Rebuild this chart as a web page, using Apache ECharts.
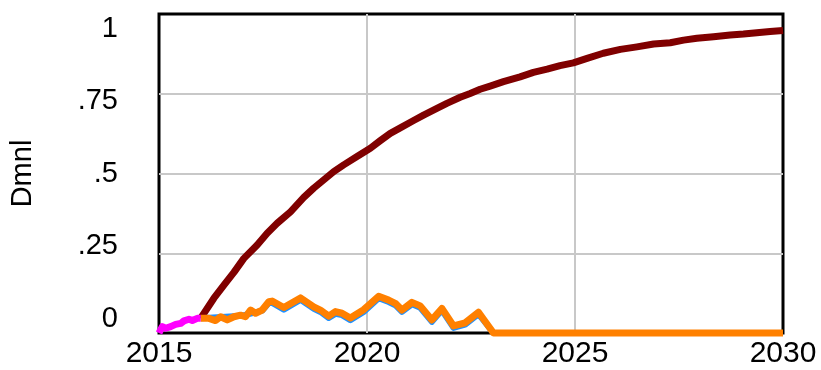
<!DOCTYPE html>
<html>
<head>
<meta charset="utf-8">
<script src="https://cdn.jsdelivr.net/npm/echarts@6/dist/echarts.min.js"></script>
<style>
  html, body { margin: 0; padding: 0; background: #fff; }
  #chart { width: 821px; height: 370px; }
</style>
</head>
<body>
<div id="chart"></div>
<script>
// Time axis (years) and tick labels
const xTicks = [2015, 2020, 2025, 2030];
const yTicks = [0, 0.25, 0.5, 0.75, 1];

// Initial segment (magenta)
const initT = [2015.0, 2015.08, 2015.16, 2015.28, 2015.40, 2015.52, 2015.60, 2015.72, 2015.80, 2015.92, 2016.0];
const initV = [0.0, 0.020, 0.015, 0.020, 0.027, 0.030, 0.038, 0.043, 0.039, 0.046, 0.046];

// Cumulative share (dark red)
const shareT = [2016.0, 2016.32, 2016.56, 2016.8, 2017.04, 2017.36, 2017.6, 2017.84, 2018.16, 2018.48,
                2018.72, 2018.96, 2019.2, 2019.44, 2019.76, 2020.08, 2020.32, 2020.56, 2020.8, 2021.12,
                2021.36, 2021.68, 2021.92, 2022.24, 2022.48, 2022.72, 2022.96, 2023.28, 2023.68, 2024.0,
                2024.33, 2024.64, 2024.96, 2025.29, 2025.68, 2026.09, 2026.49, 2026.89, 2027.29, 2027.61,
                2027.93, 2028.33, 2028.73, 2029.05, 2029.37, 2029.69, 2030.0];
const shareV = [0.046, 0.109, 0.150, 0.190, 0.234, 0.276, 0.313, 0.344, 0.380, 0.425,
                0.454, 0.480, 0.506, 0.527, 0.553, 0.579, 0.603, 0.626, 0.643, 0.666,
                0.683, 0.704, 0.720, 0.739, 0.751, 0.764, 0.774, 0.788, 0.803, 0.817,
                0.827, 0.838, 0.847, 0.861, 0.877, 0.889, 0.897, 0.906, 0.910, 0.918,
                0.924, 0.929, 0.934, 0.937, 0.941, 0.945, 0.948];

// Rate (orange)
const rateT = [2016.0, 2016.2, 2016.36, 2016.48, 2016.64, 2016.8, 2016.96, 2017.08, 2017.2, 2017.32,
               2017.48, 2017.64, 2017.72, 2018.0, 2018.4, 2018.72, 2018.88, 2019.08, 2019.24, 2019.4,
               2019.6, 2019.92, 2020.28, 2020.52, 2020.68, 2020.84, 2021.08, 2021.28, 2021.56, 2021.8,
               2022.08, 2022.36, 2022.68, 2023.04, 2030.0];
const rateV = [0.046, 0.046, 0.039, 0.051, 0.041, 0.051, 0.056, 0.051, 0.072, 0.062,
               0.072, 0.098, 0.100, 0.080, 0.110, 0.082, 0.072, 0.053, 0.067, 0.062,
               0.047, 0.073, 0.115, 0.103, 0.093, 0.072, 0.096, 0.085, 0.041, 0.077,
               0.022, 0.032, 0.065, 0.0, 0.0];

// Adjusted rate (blue), running just under the orange curve
const adjT = [2016.0, 2017.0, 2017.48, 2017.64, 2017.72, 2018.0, 2018.4, 2018.72, 2018.88, 2019.08,
              2019.24, 2019.4, 2019.6, 2019.92, 2020.28, 2020.52, 2020.68, 2020.84, 2021.08, 2021.28,
              2021.56, 2021.8, 2022.08, 2022.36, 2022.68, 2023.04, 2030.0];
const adjV = [0.046, 0.054, 0.070, 0.094, 0.094, 0.073, 0.104, 0.076, 0.066, 0.047,
              0.060, 0.056, 0.040, 0.066, 0.109, 0.097, 0.087, 0.066, 0.090, 0.079,
              0.035, 0.071, 0.016, 0.026, 0.059, 0.0, 0.0];

const zip = (t, v) => t.map((x, i) => [x, v[i]]);
const FONT = '"Liberation Sans", Arial, Helvetica, sans-serif';

const chart = echarts.init(document.getElementById('chart'), null, { renderer: 'canvas' });

const lineSeries = (name, t, v, color, width) => ({
  name, type: 'line', data: zip(t, v), showSymbol: false, symbol: 'none',
  lineStyle: { color, width, join: 'round', cap: 'butt' }, itemStyle: { color },
  clip: false, animation: false
});

chart.setOption({
  animation: false,
  backgroundColor: '#ffffff',
  grid: {
    left: 158, right: 38, top: 14, bottom: 37,
    show: true, borderColor: '#000', borderWidth: 3, backgroundColor: 'transparent'
  },
  xAxis: {
    type: 'value', min: 2015, max: 2030, interval: 5,
    axisLine: { show: false }, axisTick: { show: false },
    axisLabel: {
      color: '#000', fontFamily: FONT, fontSize: 30, margin: 6,
      customValues: xTicks, formatter: v => String(v)
    },
    splitLine: { show: true, showMinLine: false, showMaxLine: false, lineStyle: { color: '#c8c8c8', width: 2 } }
  },
  yAxis: [
    {
      type: 'value', min: 0, max: 1, interval: 0.25,
      name: 'Dmnl', nameLocation: 'middle', nameRotate: 90, nameGap: 122,
      nameTextStyle: { color: '#000', fontFamily: FONT, fontSize: 29 },
      axisLine: { show: false }, axisTick: { show: false }, axisLabel: { show: false },
      splitLine: { show: true, showMinLine: false, showMaxLine: false, lineStyle: { color: '#c8c8c8', width: 2 } }
    },
    {
      // label-only axis: Vensim-style tick labels sit slightly inside the grid lines
      type: 'value', position: 'left', min: -0.050, max: 1.052,
      axisLine: { show: false }, axisTick: { show: false }, splitLine: { show: false },
      axisLabel: {
        color: '#000', fontFamily: FONT, fontSize: 29, margin: 41,
        customValues: yTicks,
        formatter: v => (v === 0 ? '0' : v === 1 ? '1' : String(v).replace(/^0/, ''))
      }
    }
  ],
  series: [
    lineSeries('share', shareT, shareV, '#800000', 7),
    lineSeries('adjusted rate', adjT, adjV, '#1e90ff', 6),
    lineSeries('rate', rateT, rateV, '#ff8000', 7),
    lineSeries('initial', initT, initV, '#ff00ff', 7)
  ]
});
</script>
</body>
</html>
